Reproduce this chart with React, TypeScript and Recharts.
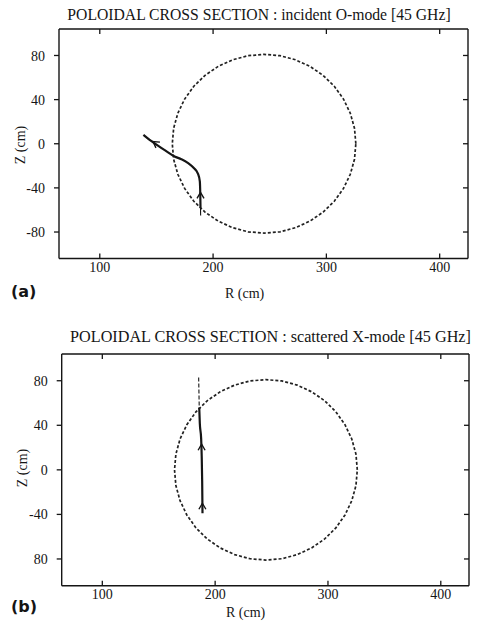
import React from 'react';
import { ComposedChart, Line, Scatter, XAxis, YAxis } from 'recharts';

// ---- data ----
const rTicks = [100, 200, 300, 400];
const zTicks = [-80, -40, 0, 40, 80];
const zTickLabelsA = ['-80', '-40', '0', '40', '80'];
const zTickLabelsB = ['80', '-40', '0', '40', '80'];

// plasma boundary (dashed), R, Z in cm
const boundary = [
  { r: 326, z: 0 }, { r: 324.8, z: 14.1 }, { r: 321.1, z: 27.7 }, { r: 315.1, z: 40.5 },
  { r: 307, z: 52.1 }, { r: 297.1, z: 62 }, { r: 285.5, z: 70.1 }, { r: 272.7, z: 76.1 },
  { r: 259.1, z: 79.8 }, { r: 245, z: 81 }, { r: 230.9, z: 79.8 }, { r: 217.3, z: 76.1 },
  { r: 204.5, z: 70.1 }, { r: 192.9, z: 62 }, { r: 183, z: 52.1 }, { r: 174.9, z: 40.5 },
  { r: 168.9, z: 27.7 }, { r: 165.2, z: 14.1 }, { r: 164, z: 0 }, { r: 165.2, z: -14.1 },
  { r: 168.9, z: -27.7 }, { r: 174.9, z: -40.5 }, { r: 183, z: -52.1 }, { r: 192.9, z: -62 },
  { r: 204.5, z: -70.1 }, { r: 217.3, z: -76.1 }, { r: 230.9, z: -79.8 }, { r: 245, z: -81 },
  { r: 259.1, z: -79.8 }, { r: 272.7, z: -76.1 }, { r: 285.5, z: -70.1 }, { r: 297.1, z: -62 },
  { r: 307, z: -52.1 }, { r: 315.1, z: -40.5 }, { r: 321.1, z: -27.7 }, { r: 324.8, z: -14.1 },
  { r: 326, z: 0 },
];

// (a) incident O-mode ray
const rayAOuter = [
  { r: 189, z: -65 }, { r: 188.9, z: -58 },
];
const rayAInner = [
  { r: 188.9, z: -58 }, { r: 188.7, z: -46 }, { r: 188.3, z: -34 }, { r: 186.6, z: -27 },
  { r: 183, z: -22 }, { r: 178, z: -17.5 }, { r: 172, z: -14 }, { r: 166, z: -11.5 },
  { r: 158, z: -6.3 }, { r: 150, z: -0.8 }, { r: 144, z: 3.5 }, { r: 138.5, z: 8 },
];
const arrowsA = [
  { r: 147, z: 2, dir: -55 },
  { r: 188.9, z: -44, dir: 0 },
];

// (b) scattered X-mode ray
const rayBOuter = [
  { r: 185.4, z: 83 }, { r: 185.9, z: 56 },
];
const rayBInner = [
  { r: 185.9, z: 56 }, { r: 186.4, z: 42 }, { r: 187.6, z: 28 }, { r: 188.1, z: 12 },
  { r: 188.5, z: -10 }, { r: 188.8, z: -39 },
];
const arrowsB = [
  { r: 188, z: 23, dir: 0 },
  { r: 188.7, z: -30, dir: 0 },
];

const INK = '#151515';
const FONT = '"Liberation Serif", "DejaVu Serif", serif';

const BottomTick = (props: any) => {
  const { x, y, payload } = props;
  return (
    <g>
      <line x1={x} x2={x} y1={y - 3} y2={y - 8} stroke={INK} strokeWidth={1.3} />
      <text x={x} y={y} dy="0.75em" textAnchor="middle" fontFamily={FONT} fontSize={14} fill={INK}>
        {payload.value}
      </text>
    </g>
  );
};
const TopTick = (props: any) => {
  const { x, y } = props;
  return <line x1={x} x2={x} y1={y} y2={y + 5} stroke={INK} strokeWidth={1.3} />;
};
const RightTick = (props: any) => {
  const { x, y } = props;
  return <line x1={x} x2={x - 5} y1={y} y2={y} stroke={INK} strokeWidth={1.3} />;
};
const makeLeftTick = (labels: string[]) => (props: any) => {
  const { x, y, payload, index } = props;
  return (
    <g>
      <line x1={x + 9} x2={x + 14} y1={y} y2={y} stroke={INK} strokeWidth={1.3} />
      <text x={x} y={y} dy="0.36em" textAnchor="end" fontFamily={FONT} fontSize={14} fill={INK}>
        {labels[index] ?? payload.value}
      </text>
    </g>
  );
};

const Chevron = (props: any) => {
  const { cx, cy, payload } = props;
  if (cx == null || cy == null) return null;
  return (
    <path
      d="M -3.5 6 L 0 0 L 3.5 6"
      transform={`translate(${cx},${cy}) rotate(${payload.dir})`}
      fill="none"
      stroke={INK}
      strokeWidth={1.4}
    />
  );
};

type PanelProps = {
  margin: { top: number; right: number; bottom: number; left: number };
  labels: string[];
  outer: { r: number; z: number }[];
  inner: { r: number; z: number }[];
  arrows: { r: number; z: number; dir: number }[];
  outerDash?: string;
};

const Panel = ({ margin, labels, outer, inner, arrows, outerDash }: PanelProps) => (
  <ComposedChart width={477} height={300} margin={margin}>
    <XAxis
      xAxisId="b"
      dataKey="r"
      type="number"
      domain={[64, 425]}
      ticks={rTicks}
      allowDataOverflow
      height={30}
      tickSize={0}
      tickMargin={3}
      tickLine={false}
      tick={<BottomTick />}
      axisLine={{ stroke: INK, strokeWidth: 1.4 }}
    />
    <XAxis
      xAxisId="t"
      orientation="top"
      dataKey="r"
      type="number"
      domain={[64, 425]}
      ticks={rTicks}
      allowDataOverflow
      height={1}
      tickSize={0}
      tickMargin={0}
      tickLine={false}
      tick={<TopTick />}
      axisLine={{ stroke: INK, strokeWidth: 1.4 }}
    />
    <YAxis
      yAxisId="l"
      dataKey="z"
      type="number"
      domain={[-104, 104]}
      ticks={zTicks}
      allowDataOverflow
      width={59}
      tickSize={0}
      tickMargin={14}
      tickLine={false}
      tick={makeLeftTick(labels)}
      axisLine={{ stroke: INK, strokeWidth: 1.4 }}
    />
    <YAxis
      yAxisId="r"
      orientation="right"
      dataKey="z"
      type="number"
      domain={[-104, 104]}
      ticks={zTicks}
      allowDataOverflow
      width={1}
      tickSize={0}
      tickMargin={0}
      tickLine={false}
      tick={<RightTick />}
      axisLine={{ stroke: INK, strokeWidth: 1.4 }}
    />
    <Line
      xAxisId="b"
      yAxisId="l"
      data={boundary}
      dataKey="z"
      type="linear"
      stroke="#222"
      strokeWidth={1.7}
      strokeDasharray="3 2"
      dot={false}
      isAnimationActive={false}
    />
    <Line
      xAxisId="b"
      yAxisId="l"
      data={outer}
      dataKey="z"
      type="linear"
      stroke={INK}
      strokeWidth={1.1}
      strokeDasharray={outerDash}
      dot={false}
      isAnimationActive={false}
    />
    <Line
      xAxisId="b"
      yAxisId="l"
      data={inner}
      dataKey="z"
      type="monotone"
      stroke={INK}
      strokeWidth={2.2}
      dot={false}
      isAnimationActive={false}
    />
    <Scatter
      xAxisId="b"
      yAxisId="l"
      data={arrows}
      dataKey="z"
      shape={<Chevron />}
      isAnimationActive={false}
    />
  </ComposedChart>
);

const textStyle: React.CSSProperties = {
  position: 'absolute',
  fontFamily: FONT,
  color: INK,
  whiteSpace: 'nowrap',
  lineHeight: 1,
};

export default function App() {
  return (
    <div style={{ position: 'absolute', left: 0, top: 0, width: 477, height: 634, background: '#fff', overflow: 'hidden' }}>
      {/* panel (a) */}
      <div style={{ ...textStyle, left: 0, width: 518, top: 7, textAlign: 'center', fontSize: 15.7 }}>
        POLOIDAL CROSS SECTION : incident O-mode [45 GHz]
      </div>
      <div style={{ position: 'absolute', left: 0, top: 0 }}>
        <Panel
          margin={{ top: 28, right: 8, bottom: 11.5, left: 0 }}
          labels={zTickLabelsA}
          outer={rayAOuter}
          inner={rayAInner}
          arrows={arrowsA}
        />
      </div>
      <div style={{ ...textStyle, left: 2, top: 145, fontSize: 14, transform: 'translate(0,-50%) rotate(-90deg)', transformOrigin: 'center' }}>
        <span style={{ display: 'inline-block' }}>Z (cm)</span>
      </div>
      <div style={{ ...textStyle, left: 225, top: 287, fontSize: 14 }}>R (cm)</div>
      <div style={{ ...textStyle, left: 11, top: 284, fontSize: 16, fontWeight: 700, fontFamily: '"DejaVu Sans", sans-serif' }}>(a)</div>

      {/* panel (b) */}
      <div style={{ ...textStyle, left: 0, width: 541, top: 329, textAlign: 'center', fontSize: 16.2 }}>
        POLOIDAL CROSS SECTION : scattered X-mode [45 GHz]
      </div>
      <div style={{ position: 'absolute', left: 0, top: 320 }}>
        <Panel
          margin={{ top: 33, right: 7, bottom: 4.3, left: 2.7 }}
          labels={zTickLabelsB}
          outer={rayBOuter}
          inner={rayBInner}
          arrows={arrowsB}
          outerDash="4 2"
        />
      </div>
      <div style={{ ...textStyle, left: 4, top: 468, fontSize: 14, transform: 'translate(0,-50%) rotate(-90deg)', transformOrigin: 'center' }}>
        <span style={{ display: 'inline-block' }}>Z (cm)</span>
      </div>
      <div style={{ ...textStyle, left: 226, top: 606, fontSize: 14 }}>R (cm)</div>
      <div style={{ ...textStyle, left: 11, top: 599, fontSize: 16, fontWeight: 700, fontFamily: '"DejaVu Sans", sans-serif' }}>(b)</div>
    </div>
  );
}
